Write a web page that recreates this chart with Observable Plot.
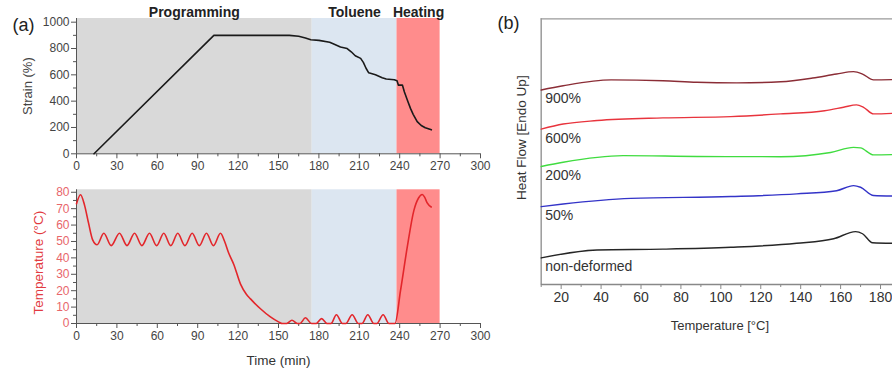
<!DOCTYPE html>
<html><head><meta charset="utf-8">
<script src="https://cdn.jsdelivr.net/npm/d3@7"></script>
<script src="https://cdn.jsdelivr.net/npm/@observablehq/plot@0.6"></script>
<style>
html,body{margin:0;padding:0;background:#fff;}
#wrap{position:relative;width:892px;height:376px;overflow:hidden;font-family:"Liberation Sans",Arial,sans-serif;}
</style></head><body><div id="wrap"></div>
<script>
// ---------- data: panel (a) ----------
const phaseNames = ["Programming", "Toluene", "Heating"];
const phaseStart = [0, 175, 238];
const phaseEnd = [175, 238, 270];
const timeTicks = d3.range(0, 301, 30);
const timeMinor = d3.range(15, 300, 30);
const strainTicks = d3.range(0, 1001, 200);
const strainMinor = d3.range(100, 1000, 200);
const tempTicks = d3.range(0, 81, 10);
const tempMinor = d3.range(5, 80, 10);

// strain (%) vs time (min)
const strain = [[13,0],[102,900],[158,900],[165,893],[170,880],[174,866],[180,862],[188,848],[191,835],[196,812],[201,800],[204,775],[207,745],[211,725],[213,695],[215,650],[217,615],[222,600],[227,578],[230,568],[236,563],[238,555],[239,522],[242,522],[243.5,470],[246,400],[248,345],[250,300],[253,245],[256,215],[259,198],[263.5,182]];

// temperature (°C) vs time (min)
const temperature = [[0,73],[3,78.5],[6,72],[9,61],[12,51],[15.3,48],[20.3,55],[25.8,47.5],[31.9,55],[37.5,47.5],[43.1,55],[48.6,47.5],[54.2,55],[59.5,47.5],[64.8,55],[70,47.5],[75.2,55],[80.5,47.5],[85.9,55],[91.2,47.5],[96.5,55],[101.7,47.5],[106.9,55],[110,50],[113,43],[116.8,36],[121.8,24],[126,18],[129.2,15],[136.6,9],[144,4],[150,1],[153,0],[156,0],[160,2],[164,0],[166,0],[170,3.5],[174.5,0],[178,0],[182,3],[186,0],[189,0],[193,5.3],[197.5,0],[200,0],[204.7,5.3],[209.3,0],[212,0],[216.3,5.3],[220.8,0],[223,0],[227.7,5.3],[232,0],[236.5,0],[240.6,20],[245.6,46.5],[250.5,68.8],[254,76.5],[256.7,78.6],[258.5,77],[260.4,73.5],[263.4,71]];

// ---------- data: panel (b) ----------
const samples = ["900%", "600%", "200%", "50%", "non-deformed"];
const dsc900 = [[10,7.32],[21,7.48],[45,7.70],[71,7.67],[88,7.61],[108,7.59],[130,7.63],[146,7.77],[158,7.92],[166.5,8.01],[171,7.92],[176.5,7.70],[186,7.71]];
const dsc600 = [[10,5.85],[21,6.04],[38,6.17],[71,6.27],[105,6.32],[130,6.42],[152,6.54],[161.5,6.67],[168,6.76],[171.5,6.67],[176.5,6.42],[186,6.44]];
const dsc200 = [[10,4.44],[21,4.60],[51,4.85],[88,4.82],[130,4.81],[155,4.97],[166.5,5.16],[170,5.14],[176.5,4.88],[186,4.89]];
const dsc50 = [[10,2.93],[21,3.03],[55,3.24],[105,3.31],[138,3.41],[158,3.53],[166.5,3.72],[170,3.66],[176.5,3.35],[186,3.33]];
const dscNon = [[10,1.00],[38,1.30],[71,1.33],[105,1.40],[138,1.55],[156.5,1.72],[167.5,1.99],[171,1.91],[176,1.57],[186,1.55]];
const dscTicks = d3.range(20, 181, 20);
const dscMinor = d3.range(10, 186, 20);

// ---------- styles ----------
const phaseFill = ["#d9d9d9", "#dce6f1", "#ff8c8c"];
const sampleColors = ["#8b2d36", "#e8343d", "#40dc40", "#3434c8", "#262626"];
const axisGray = "#555";
const tempRed = "#e23a40";
const font = '"Liberation Sans", Arial, sans-serif';
const plain = d => String(d);

// ---------- tables ----------
const phases = phaseNames.map((p, i) => ({phase: p, start: phaseStart[i], end: phaseEnd[i]}));
const strainRows = strain.map(([t, s]) => ({t, s}));
const tempRows = temperature.map(([t, v]) => ({t, v}));
const dscSeries = [dsc900, dsc600, dsc200, dsc50, dscNon];
const dscRows = dscSeries.flatMap((arr, i) => arr.map(([T, v]) => ({sample: samples[i], T, v})));
const dscFirst = dscSeries.map((arr, i) => ({sample: samples[i], T: arr[0][0], v: arr[0][1]}));

const wrap = document.getElementById("wrap");
function place(svg, left, top) {
  svg.style.position = "absolute";
  svg.style.left = left + "px";
  svg.style.top = top + "px";
  svg.style.overflow = "visible";
  svg.style.maxWidth = "none";
  wrap.appendChild(svg);
}
const phaseColor = {domain: phaseNames, range: phaseFill};

// ---------- panel (a) top: strain ----------
const p1 = Plot.plot({
  width: 500, height: 180,
  marginLeft: 76, marginRight: 20, marginTop: 18, marginBottom: 26.7,
  style: {background: "transparent", fontFamily: font, color: "#333"},
  x: {domain: [0, 300]},
  y: {domain: [0, 1028]},
  color: phaseColor,
  marks: [
    Plot.rect(phases, {x1: "start", x2: "end", fill: "phase"}),
    Plot.text(phases, {x: d => (d.start + d.end) / 2, text: "phase", frameAnchor: "top", lineAnchor: "middle", dy: -5.5, fontWeight: "bold", fontSize: 14, fill: "#222"}),
    Plot.ruleY([0], {stroke: axisGray}),
    Plot.ruleX([0], {stroke: axisGray}),
    Plot.axisX({ticks: timeTicks, tickSize: 5, tickPadding: 2.5, stroke: axisGray, fill: "#444", label: null, fontSize: 12, tickFormat: plain}),
    Plot.axisX({ticks: timeMinor, tickSize: 3, tickFormat: () => "", stroke: axisGray, label: null}),
    Plot.axisY({ticks: strainTicks, tickSize: 5, tickPadding: 2, stroke: axisGray, fill: "#444", label: null, fontSize: 12, tickFormat: plain}),
    Plot.axisY({ticks: strainMinor, tickSize: 3, tickFormat: () => "", stroke: axisGray, label: null}),
    Plot.line(strainRows, {x: "t", y: "s", stroke: "#1a1a1a", strokeWidth: 1.6}),
    Plot.text(["Strain (%)"], {frameAnchor: "left", textAnchor: "middle", lineAnchor: "middle", dx: -49, rotate: -90, fontSize: 13, fill: "#444"}),
    Plot.text(["(a)"], {frameAnchor: "top-left", textAnchor: "start", lineAnchor: "middle", dx: -64, dy: 7, fontSize: 18, fill: "#222"})
  ]
});
place(p1, 0, 0);

// ---------- panel (a) bottom: temperature ----------
const p2 = Plot.plot({
  width: 500, height: 196,
  marginLeft: 76, marginRight: 20, marginTop: 9.3, marginBottom: 53,
  style: {background: "transparent", fontFamily: font, color: "#333"},
  x: {domain: [0, 300]},
  y: {domain: [0, 81.5]},
  color: phaseColor,
  marks: [
    Plot.rect(phases, {x1: "start", x2: "end", fill: "phase"}),
    Plot.ruleY([0], {stroke: axisGray}),
    Plot.ruleX([0], {stroke: axisGray}),
    Plot.axisX({ticks: timeTicks, tickSize: 5, tickPadding: 2.5, stroke: axisGray, fill: "#444", label: null, fontSize: 12, tickFormat: plain}),
    Plot.axisX({ticks: timeMinor, tickSize: 3, tickFormat: () => "", stroke: axisGray, label: null}),
    Plot.axisY({ticks: tempTicks, tickSize: 5, tickPadding: 2, stroke: axisGray, fill: "#e8666b", label: null, fontSize: 12, tickFormat: plain}),
    Plot.axisY({ticks: tempMinor, tickSize: 3, tickFormat: () => "", stroke: axisGray, label: null}),
    Plot.line(tempRows, {x: "t", y: "v", curve: "monotone-x", stroke: "#e3262b", strokeWidth: 1.6}),
    Plot.text(["Temperature (°C)"], {frameAnchor: "left", textAnchor: "middle", lineAnchor: "middle", dx: -38, dy: 6, rotate: -90, fontSize: 13.5, fill: tempRed}),
    Plot.text(["Time (min)"], {frameAnchor: "bottom", lineAnchor: "middle", dy: 37, fontSize: 13.5, fill: "#333"})
  ]
});
place(p2, 0, 180);

// ---------- panel (b): DSC ----------
const p3 = Plot.plot({
  width: 395, height: 376,
  marginLeft: 43.7, marginRight: 0, marginTop: 18.3, marginBottom: 92,
  style: {background: "transparent", fontFamily: font, color: "#333"},
  x: {domain: [10, 186]},
  y: {domain: [0, 10], axis: null},
  color: {domain: samples, range: sampleColors},
  marks: [
    Plot.ruleY([10], {stroke: "#9a9a9a", strokeWidth: 1.3}),
    Plot.ruleX([10], {stroke: "#9a9a9a", strokeWidth: 1.5}),
    Plot.ruleY([0], {stroke: "#888", strokeWidth: 1.3}),
    Plot.axisX({ticks: dscTicks, tickSize: 5, tickPadding: 3, stroke: "#888", fill: "#333", label: null, fontSize: 14, tickFormat: plain}),
    Plot.axisX({ticks: dscMinor, tickSize: 3, tickFormat: () => "", stroke: "#888", label: null}),
    Plot.line(dscRows, {x: "T", y: "v", z: "sample", stroke: "sample", curve: "monotone-x", strokeWidth: 1.4}),
    Plot.text(dscFirst, {x: "T", y: "v", text: "sample", dx: 4, dy: 9, textAnchor: "start", lineAnchor: "middle", fontSize: 14, fill: "#333"}),
    Plot.text(["Temperature [°C]"], {frameAnchor: "bottom", lineAnchor: "middle", dx: 3, dy: 41.7, fontSize: 13, fill: "#333"}),
    Plot.text(["Heat Flow [Endo Up]"], {frameAnchor: "left", textAnchor: "middle", lineAnchor: "middle", dx: -20, dy: -14, rotate: -90, fontSize: 13.5, fill: "#333"}),
    Plot.text(["(b)"], {frameAnchor: "top-left", textAnchor: "start", lineAnchor: "middle", dx: -43.7, dy: 4, fontSize: 18, fill: "#222"})
  ]
});
place(p3, 497, 0);
</script></body></html>
